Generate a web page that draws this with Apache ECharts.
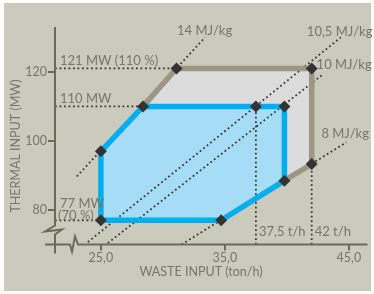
<!DOCTYPE html>
<html>
<head>
<meta charset="utf-8">
<script src="https://cdn.jsdelivr.net/npm/echarts@6/dist/echarts.min.js"></script>
<style>
  html, body { margin: 0; padding: 0; background: #fff; }
  #bg { position: absolute; left: 4px; top: 3px; width: 367px; height: 288px; background: #cacabd; }
  #chart { position: absolute; left: 0; top: 0; width: 374px; height: 294px; }
</style>
</head>
<body>
<div id="bg"></div>
<div id="chart"></div>
<script>
// tick values
const ticksX = [25, 35, 45];
const ticksY = [80, 100, 120];

// operating envelope (t/h, MW)
const blueX = [25, 28.4, 39.8, 39.8, 34.7, 25, 25];
const blueY = [97, 110, 110, 88.5, 77, 77, 97];
const outerX = [25, 28.4, 31.1, 42, 42, 39.8, 34.7, 25];
const outerY = [97, 110, 121, 121, 93.3, 88.5, 77, 77];
const grayEdgeX = [28.4, 31.1, 42, 42, 39.8];
const grayEdgeY = [110, 121, 121, 93.3, 88.5];

// corner points
const pointX = [25, 28.4, 31.1, 42, 37.5, 39.8, 42, 39.8, 34.7, 25];
const pointY = [97, 110, 121, 121, 110, 110, 93.3, 88.5, 77, 77];

// heating value lines
const isoNames = ["14 MJ/kg", "10,5 MJ/kg", "10 MJ/kg", "8 MJ/kg"];
const isoStartX = [23.06, 23.95, 25.56, 31.5];
const isoStartY = [89.7, 70.7, 70.4, 70];
const isoEndX = [33.4, 44.35, 42.8, 44.8];
const isoEndY = [130, 130, 119, 99.6];

// reference lines
const refMW = [121, 110, 77];
const refMWEndX = [31.1, 28.4, 25];
const refTon = [37.5, 42];
const refTonEndY = [110, 93.3];

const xMin = 21.3, xMax = 46.5, yMin = 70, yMax = 133;

var myChart = echarts.init(document.getElementById("chart"));
const textColor = "#76766a";
const axisColor = "#6c6b5a";
const font = "Lato";
const dotted = { color: "#383838", width: 1.8, type: [1.8, 2.7] };

const dottedSeries = [];
isoNames.forEach(function (n, i) {
  dottedSeries.push({
    name: n, type: "line", showSymbol: false, silent: true,
    data: [[isoStartX[i], isoStartY[i]], [isoEndX[i], isoEndY[i]]],
    lineStyle: dotted,
  });
});
refMW.forEach(function (v, i) {
  dottedSeries.push({
    type: "line", showSymbol: false, silent: true,
    data: [[xMin, v], [refMWEndX[i], v]],
    lineStyle: dotted,
  });
});
refTon.forEach(function (v, i) {
  dottedSeries.push({
    type: "line", showSymbol: false, silent: true,
    data: [[v, yMin], [v, refTonEndY[i]]],
    lineStyle: dotted,
  });
});

function polygon(xs, ys, fill) {
  return {
    type: "custom", silent: true,
    data: [[xs[0], ys[0]]],
    renderItem: function (params, api) {
      var pts = xs.map(function (x, i) { return api.coord([x, ys[i]]); });
      return { type: "polygon", shape: { points: pts }, style: { fill: fill } };
    },
  };
}

var option = {
  animation: false,
  grid: { left: 55, top: 27, width: 312.5, height: 217.5, outerBoundsMode: "none" },
  xAxis: {
    type: "value", min: xMin, max: xMax,
    splitLine: { show: false },
    axisLine: { show: false },
    axisTick: { show: true, customValues: ticksX, length: 6, lineStyle: { color: axisColor, width: 2 } },
    axisLabel: {
      customValues: ticksX, margin: 7, color: textColor, fontFamily: font, fontSize: 12.5,
      formatter: function (v) { return v.toFixed(1).replace(".", ","); },
    },
  },
  yAxis: {
    type: "value", min: yMin, max: yMax,
    splitLine: { show: false },
    axisLine: { show: false },
    axisTick: { show: true, customValues: ticksY, length: 7, lineStyle: { color: axisColor, width: 2 } },
    axisLabel: { customValues: ticksY, margin: 8, color: textColor, fontFamily: font, fontSize: 12.5 },
  },
  series: [
    polygon(outerX, outerY, "#dcdcdc"),
    polygon(blueX, blueY, "#a6dcf5"),
  ].concat(dottedSeries).concat([
    {
      type: "line", showSymbol: false, silent: true,
      data: grayEdgeX.map(function (x, i) { return [x, grayEdgeY[i]]; }),
      lineStyle: { color: "#9a9884", width: 5.5, join: "miter" },
    },
    {
      type: "line", showSymbol: false, silent: true,
      data: blueX.map(function (x, i) { return [x, blueY[i]]; }),
      lineStyle: { color: "#00aeef", width: 5.5, join: "miter" },
    },
    {
      type: "scatter", symbol: "diamond", symbolSize: 12, silent: true, z: 10,
      data: pointX.map(function (x, i) { return [x, pointY[i]]; }),
      itemStyle: { color: "#333333", opacity: 1 },
    },
  ]),
};
myChart.setOption(option);

// axes, breaks and annotations
function px(x, y) { return myChart.convertToPixel({ gridIndex: 0 }, [x, y]); }
const origin = px(xMin, yMin);
const topPt = px(xMin, yMax);
const rightPt = px(xMax, yMin);
function txt(s, p, dx, dy) {
  return {
    type: "text", x: p[0] + dx, y: p[1] + dy, z: 100, silent: true,
    style: { text: s, fill: textColor, font: "13px " + font, align: "left", verticalAlign: "middle",
             textAlign: "left", textVerticalAlign: "middle" },
  };
}
const ax = origin[0], ay = origin[1];
myChart.setOption({
  graphic: [
    {
      type: "polyline", z: 100, silent: true,
      shape: { points: [[ax, topPt[1]], [ax, ay - 19], [ax - 10, ay - 13], [ax + 7, ay - 15], [ax, ay - 10], [ax, ay + 9]] },
      style: { stroke: axisColor, lineWidth: 2, fill: null },
    },
    {
      type: "polyline", z: 100, silent: true,
      shape: { points: [[ax - 10, ay], [ax + 15, ay], [ax + 17, ay + 7], [ax + 20, ay - 8], [ax + 23, ay], [rightPt[0], ay]] },
      style: { stroke: axisColor, lineWidth: 2, fill: null },
    },
    txt("121 MW (110 %)", px(xMin, 121), 5, -8),
    txt("110 MW", px(xMin, 110), 5, -8),
    txt("77 MW", px(xMin, 77), 5, -17),
    txt("(70 %)", px(xMin, 77), 3, -5),
    txt("37,5 t/h", px(37.5, yMin), 3, -13),
    txt("42 t/h", px(42, yMin), 3, -13),
    txt(isoNames[0], px(isoEndX[0], isoEndY[0]), -28, -6.5),
    txt(isoNames[1], px(isoEndX[1], isoEndY[1]), -34, -5.5),
    txt(isoNames[2], px(isoEndX[2], isoEndY[2]), -5, -10.5),
    txt(isoNames[3], px(isoEndX[3], isoEndY[3]), -25, -8),
    {
      type: "text", x: 16, y: 146, rotation: Math.PI / 2, z: 100, silent: true,
      style: { text: "THERMAL INPUT (MW)", fill: textColor, font: "12.5px " + font,
               align: "center", verticalAlign: "middle", textAlign: "center", textVerticalAlign: "middle" },
    },
    {
      type: "text", x: 201, y: 272, z: 100, silent: true,
      style: { text: "WASTE INPUT (ton/h)", fill: textColor, font: "12.5px " + font,
               align: "center", verticalAlign: "middle", textAlign: "center", textVerticalAlign: "middle" },
    },
  ],
});

window.addEventListener("resize", function () {
  myChart.resize();
});
</script>
</body>
</html>
